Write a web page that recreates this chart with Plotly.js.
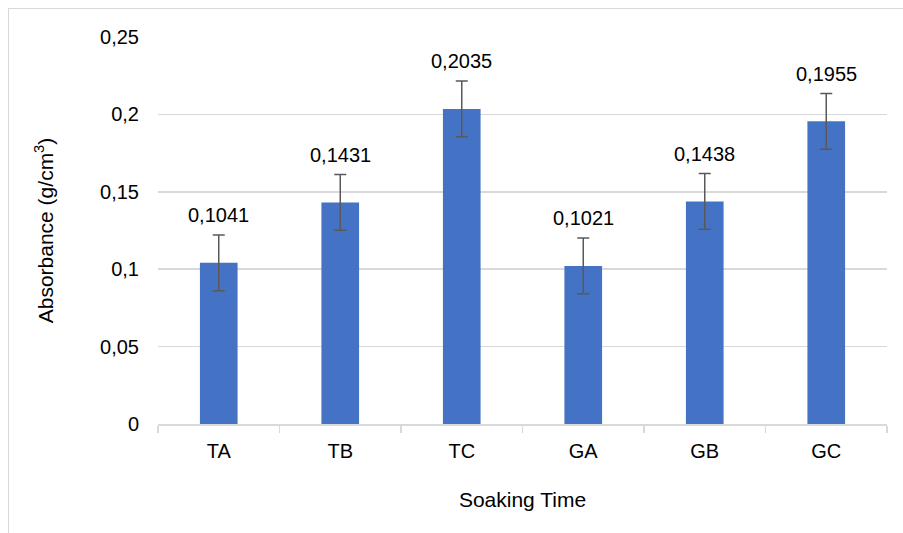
<!DOCTYPE html>
<html>
<head>
<meta charset="utf-8">
<script src="https://cdn.plot.ly/plotly-3.0.1.min.js"></script>
<style>
html,body{margin:0;padding:0;background:#fff;}
#frame{position:absolute;left:8px;top:8px;width:1000px;height:600px;border-left:1.5px solid #d9d9d9;border-top:1.5px solid #d9d9d9;pointer-events:none;z-index:5;}
#chart{position:absolute;left:0;top:0;width:903px;height:533px;}
</style>
</head>
<body>
<div id="chart"></div>
<div id="frame"></div>
<script>
const categories = ["TA", "TB", "TC", "GA", "GB", "GC"];
const values = [0.1041, 0.1431, 0.2035, 0.1021, 0.1438, 0.1955];
const errors = [0.018, 0.018, 0.018, 0.018, 0.018, 0.018];
const valueLabels = ["0,1041", "0,1431", "0,2035", "0,1021", "0,1438", "0,1955"];
const yTickVals = [0, 0.05, 0.1, 0.15, 0.2, 0.25];
const yTickText = ["0", "0,05", "0,1", "0,15", "0,2", "0,25"];

const FONT = "'Liberation Sans', Arial, sans-serif";

const trace = {
  type: "bar",
  x: categories,
  y: values,
  marker: {color: "#4472C4"},
  error_y: {type: "data", array: errors, visible: true, color: "#595959", thickness: 1.5, width: 6},
  hoverinfo: "none"
};

const annotations = categories.map((c, i) => ({
  x: c, y: values[i] + errors[i], xref: "x", yref: "y",
  text: valueLabels[i], showarrow: false, yanchor: "bottom", yshift: 7,
  font: {family: FONT, size: 20, color: "#000"}
}));

const layout = {
  width: 903, height: 533,
  margin: {l: 158, r: 16, t: 37, b: 109},
  paper_bgcolor: "#fff", plot_bgcolor: "#fff",
  font: {family: FONT, size: 20, color: "#000"},
  bargap: 0.69,
  showlegend: false,
  xaxis: {
    type: "category",
    showline: true, linecolor: "#d9d9d9", linewidth: 1.5,
    ticks: "outside", tickson: "boundaries", ticklen: 7, tickcolor: "#d9d9d9", tickwidth: 1.5,
    ticklabelstandoff: 8,
    showgrid: false,
    tickfont: {family: FONT, size: 20, color: "#000"},
    title: {text: "Soaking Time", font: {family: FONT, size: 21, color: "#000"}, standoff: 32}
  },
  yaxis: {
    range: [0, 0.25],
    tickvals: yTickVals, ticktext: yTickText,
    showgrid: true, gridcolor: "#d9d9d9", gridwidth: 1.5,
    zeroline: false, showline: false, ticks: "",
    ticklabelstandoff: 18,
    tickfont: {family: FONT, size: 20, color: "#000"},
    title: {text: "Absorbance (g/cm<sup>3</sup>)", font: {family: FONT, size: 21, color: "#000"}, standoff: 40}
  },
  annotations: annotations
};

Plotly.newPlot("chart", [trace], layout, {displayModeBar: false, staticPlot: true});
</script>
</body>
</html>
